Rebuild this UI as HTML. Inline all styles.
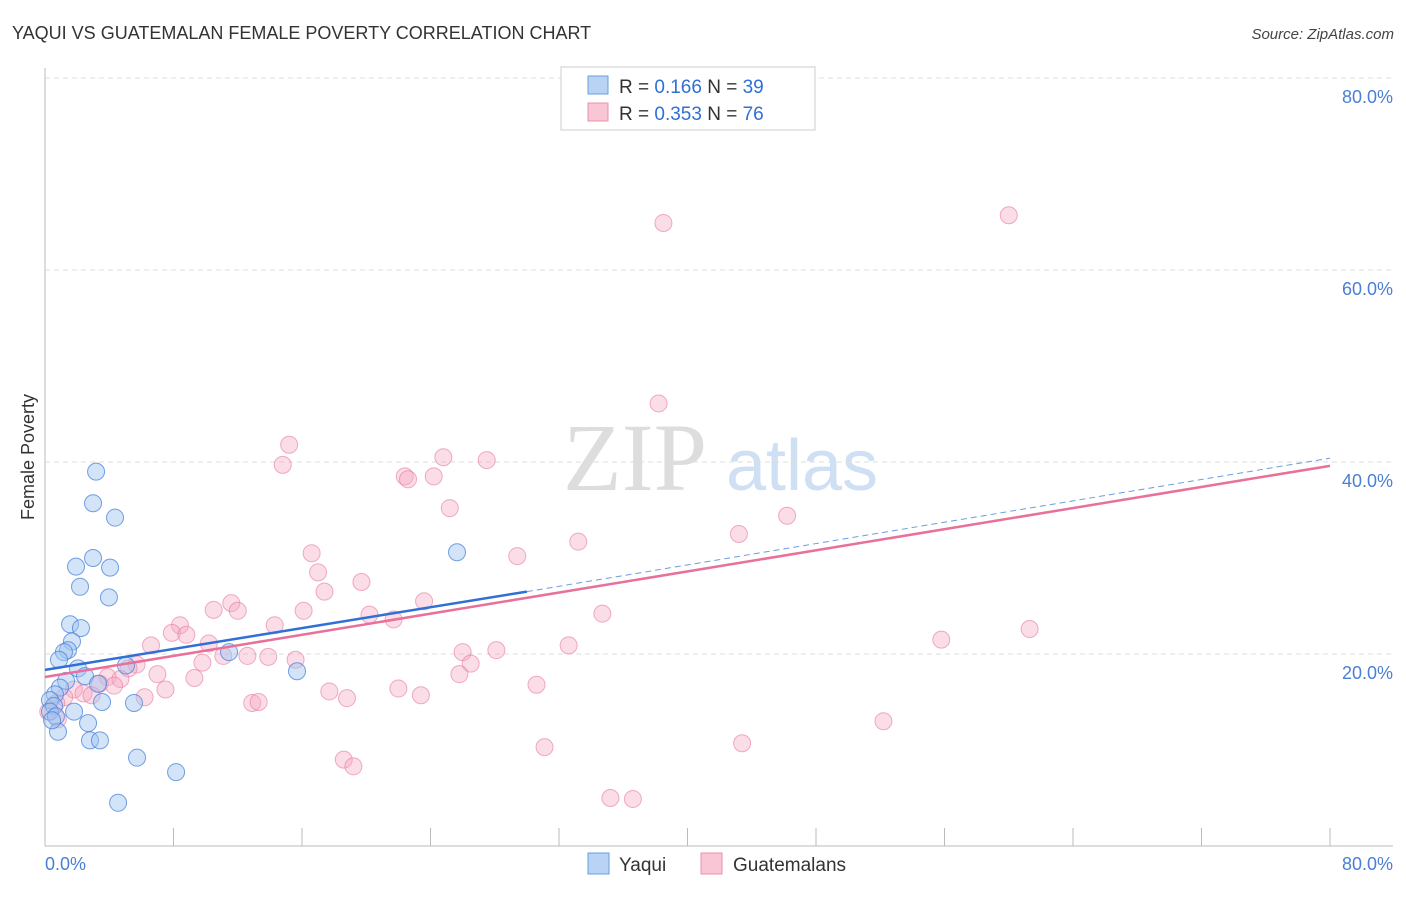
<!DOCTYPE html>
<html><head><meta charset="utf-8"><style>
body{margin:0;background:#fff;font-family:"Liberation Sans",sans-serif}
</style></head><body>
<svg id="chart" width="1406" height="892" xmlns="http://www.w3.org/2000/svg" font-family="Liberation Sans, sans-serif">
<text x="12" y="39" font-size="18" fill="#333">YAQUI VS GUATEMALAN FEMALE POVERTY CORRELATION CHART</text>
<text x="1394" y="39" font-size="15" fill="#444" font-style="italic" text-anchor="end">Source: ZipAtlas.com</text>
<g>
<text x="635" y="490" font-size="96" fill="#ddd" font-family="Liberation Serif, serif" text-anchor="middle">ZIP</text>
<text x="802" y="490" font-size="72" fill="#cfe0f4" text-anchor="middle">atlas</text>
</g>
<g id="grid"></g>
<line x1="45" y1="68" x2="45" y2="846" stroke="#bbb"/>
<line x1="45" y1="846" x2="1393" y2="846" stroke="#bbb"/>
<text transform="translate(34,457) rotate(-90)" font-size="18" fill="#333" text-anchor="middle">Female Poverty</text>
<text x="45" y="870" font-size="18" fill="#4a7fd4">0.0%</text>
<text x="1393" y="870" font-size="18" fill="#4a7fd4" text-anchor="end">80.0%</text>
<g id="pink"></g><g id="blue"></g><g id="trend"></g>
<g>
<rect x="561" y="67" width="254" height="63" fill="#fff" stroke="#ccc"/>
<rect x="588" y="76" width="20" height="18" fill="#b8d3f4" stroke="#6a9ee0"/>
<rect x="588" y="103" width="20" height="18" fill="#f9c6d6" stroke="#ec8fae"/>
<text x="619" y="93" font-size="19" fill="#333">R = <tspan fill="#2f6fd6">0.166</tspan>   N = <tspan fill="#2f6fd6">39</tspan></text>
<text x="619" y="120" font-size="19" fill="#333">R = <tspan fill="#2f6fd6">0.353</tspan>   N = <tspan fill="#2f6fd6">76</tspan></text>
</g>
<g>
<rect x="588" y="853" width="21" height="21" fill="#b8d3f4" stroke="#6a9ee0"/>
<text x="619" y="871" font-size="19" fill="#333">Yaqui</text>
<rect x="701" y="853" width="21" height="21" fill="#f9c6d6" stroke="#ec8fae"/>
<text x="733" y="871" font-size="19" fill="#333">Guatemalans</text>
</g>
</svg>
<script>
const yTicks=[20,40,60,80];
const yTickLabels=["20.0%","40.0%","60.0%","80.0%"];
const xTicks=[0,8,16,24,32,40,48,56,64,72,80];
const blueX=[3.18,2.99,4.36,2.99,1.93,4.05,2.18,3.98,1.56,2.24,1.68,1.43,1.18,0.87,2.05,5.04,2.49,1.31,3.30,0.93,0.62,0.31,0.56,3.55,5.54,1.81,0.31,0.68,2.68,0.81,2.80,3.42,5.73,8.16,4.55,25.65,15.69,11.46,0.44];
const blueY=[39.0,35.7,34.2,30.0,29.1,29.0,27.0,25.9,23.1,22.7,21.3,20.4,20.2,19.4,18.5,18.8,17.7,17.2,16.9,16.5,15.8,15.2,14.6,15.0,14.9,14.0,14.0,13.5,12.8,11.9,11.0,11.0,9.2,7.7,4.5,30.6,18.2,20.2,13.1];
const pinkX=[38.5,60.0,38.2,15.2,14.8,24.8,27.5,22.4,22.6,24.2,25.2,46.2,43.2,33.2,29.4,16.6,17.0,19.7,17.4,23.6,11.6,10.5,12.0,16.1,20.2,21.7,34.7,8.4,14.3,7.9,8.8,10.2,6.6,32.6,55.8,61.3,26.0,28.1,11.1,12.6,13.9,15.6,26.5,5.7,9.8,5.2,25.8,7.0,3.9,4.7,9.3,3.4,4.3,7.5,30.6,22.0,17.7,1.8,2.4,18.8,23.4,6.2,1.2,2.9,12.9,13.3,0.7,52.2,0.8,31.1,43.4,18.6,19.2,35.2,36.6,0.2];
const pinkY=[64.9,65.7,46.1,41.8,39.7,40.5,40.2,38.5,38.2,38.5,35.2,34.4,32.5,31.7,30.2,30.5,28.5,27.5,26.5,25.5,25.3,24.6,24.5,24.5,24.1,23.6,24.2,23.0,23.0,22.2,22.0,21.1,20.9,20.9,21.5,22.6,20.2,20.4,19.8,19.8,19.7,19.4,19.0,18.9,19.1,18.5,17.9,17.9,17.6,17.4,17.5,16.9,16.7,16.3,16.8,16.4,16.1,16.3,15.9,15.4,15.7,15.5,15.5,15.7,14.9,15.0,14.9,13.0,13.2,10.3,10.7,9.0,8.3,5.0,4.9,14.0];
const blueTrendX=[0,30,80];
const blueTrendY=[18.35,26.5,40.4];
const pinkTrendX=[0,80];
const pinkTrendY=[17.6,39.6];
const NS="http://www.w3.org/2000/svg";
const sx=v=>45+v/80*1285;
const sy=v=>846-v/20*192;
function mk(tag,attrs,parent){const e=document.createElementNS(NS,tag);for(const k in attrs)e.setAttribute(k,attrs[k]);parent.appendChild(e);return e;}
const grid=document.getElementById('grid');
yTicks.forEach((t,i)=>{
 const l=mk('line',{x1:45,x2:1393,y1:sy(t),y2:sy(t),stroke:'#ddd','stroke-dasharray':'5,4'},grid);
 
 
 const tx=mk('text',{x:1393,y:sy(t)+25,'font-size':18,fill:'#4a7fd4','text-anchor':'end'},grid);
 tx.textContent=yTickLabels[i];
 
 
});
xTicks.forEach(t=>{
 const l=mk('line',{x1:sx(t),x2:sx(t),y1:828,y2:846,stroke:'#bbb'},grid);
 
 
});
const pg=document.getElementById('pink');
pinkX.forEach((x,i)=>{
 const c=mk('circle',{cx:sx(x),cy:sy(pinkY[i]),r:8.5,fill:'rgba(246,170,195,0.4)',stroke:'rgba(232,120,158,0.6)','stroke-width':1},pg);
 
 
});
const bg=document.getElementById('blue');
blueX.forEach((x,i)=>{
 const c=mk('circle',{cx:sx(x),cy:sy(blueY[i]),r:8.5,fill:'rgba(160,196,240,0.45)',stroke:'rgba(70,130,220,0.75)','stroke-width':1},bg);
 
 
});
const tg=document.getElementById('trend');
const pl=mk('line',{x1:sx(pinkTrendX[0]),y1:sy(pinkTrendY[0]),x2:sx(pinkTrendX[1]),y2:sy(pinkTrendY[1]),stroke:'#e8709a','stroke-width':2.5},tg);


const bl=mk('line',{x1:sx(blueTrendX[0]),y1:sy(blueTrendY[0]),x2:sx(blueTrendX[1]),y2:sy(blueTrendY[1]),stroke:'#2f6fd6','stroke-width':2.5},tg);


const bd=mk('line',{x1:sx(blueTrendX[1]),y1:sy(blueTrendY[1]),x2:sx(blueTrendX[2]),y2:sy(blueTrendY[2]),stroke:'#6a9ee0','stroke-width':1,'stroke-dasharray':'6,4'},tg);


</script>
</body></html>
